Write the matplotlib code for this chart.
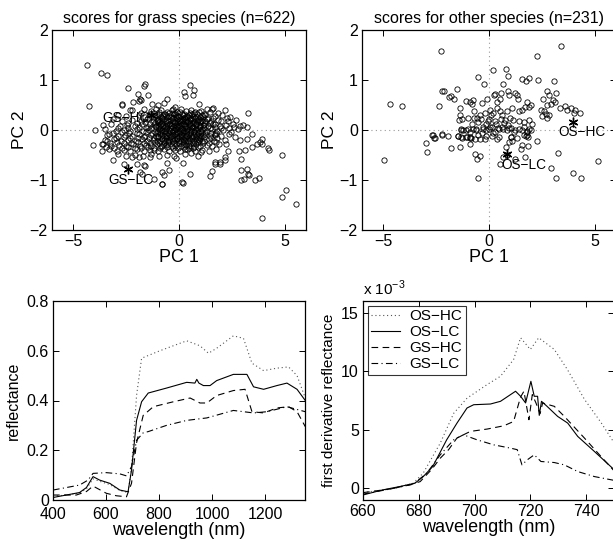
import matplotlib
matplotlib.use("Agg")
import matplotlib.pyplot as plt
import numpy as np

plt.rcParams['font.family'] = ['Liberation Sans', 'DejaVu Sans']
plt.rcParams['axes.linewidth'] = 0.9

# ---- PCA scores, grass species ----
grass_outer = [
    (-4.37, 1.30), (-3.68, 1.15), (-3.41, 1.10), (-4.23, 0.48), (-2.43, 0.85),
    (-1.59, 0.93), (-1.65, 0.88), (-1.48, 0.71), (-1.95, 0.72), (-2.67, 0.53),
    (-2.70, 0.50), (-2.15, 0.57), (-1.83, 0.63), (-1.90, 0.58), (-1.80, 0.60),
    (-2.23, 0.40), (-2.30, 0.41), (-1.63, 0.43), (-1.80, 0.35), (-1.28, 0.53),
    (-1.00, 0.50), (-0.57, 0.63), (-0.70, 0.55), (-0.18, 0.47), (-0.30, 0.42),
    (-3.97, 0.01), (-3.57, 0.10), (0.54, 0.90), (0.24, 0.77), (0.71, 0.81),
    (0.30, 0.68), (0.66, 0.70), (0.96, 0.53), (3.24, 0.35), (2.19, 0.40),
    (1.61, 0.45), (1.34, 0.42), (1.82, 0.35), (1.98, 0.18), (2.29, 0.25),
    (2.56, 0.12), (2.87, 0.08), (3.19, 0.07), (3.46, -0.08), (3.93, -0.18),
    (4.22, -0.35), (4.23, -0.40), (3.90, -0.28), (0.19, -0.65), (0.54, -0.87),
    (0.19, -1.05), (1.56, -0.81), (1.45, -0.92), (1.72, -0.63), (1.96, -0.67),
    (2.19, -0.60), (2.17, -0.53), (2.91, -0.57), (2.91, -0.80), (3.22, -0.77),
    (3.27, -0.87), (3.32, -0.90), (3.08, -0.97), (2.91, -1.00), (3.59, -1.00),
    (3.79, -0.95), (4.85, -0.50), (5.04, -1.20), (4.88, -1.33), (5.51, -1.48),
    (3.90, -1.77), (0.27, -0.37), (0.58, -0.45), (1.06, -0.43), (1.77, -0.37),
    (2.24, -0.28), (2.32, -0.41), (2.84, -0.41), (3.11, -0.39), (3.43, -0.33),
    (3.70, -0.28), (3.82, -0.23), (2.87, -0.20), (3.19, -0.17), (2.63, -0.13),
    (2.17, -0.20), (1.69, -0.07), (1.93, -0.63), (1.69, -0.67), (-4.04, -0.30),
    (-3.65, -0.27), (-3.62, -0.41), (-3.13, -0.60), (-3.50, -0.20), (-3.40, -0.10),
    (-2.62, -0.67), (-2.23, -0.53), (-1.99, -0.67), (-1.67, -0.70), (-1.60, -0.72),
    (-1.86, -0.83), (-1.75, -0.88), (-1.20, -0.97), (-0.81, -1.08), (-0.81, -0.83),
    (-0.70, -0.90), (-0.46, -0.80), (-0.57, -0.65), (-0.14, -0.55), (-1.35, -0.53),
    (-1.20, -0.40), (-1.90, -0.53), (0.13, -1.03), (-0.79, -1.07),
]
grass_core = [
    (-1.3, 0.38), (-1.1, 0.42), (-0.85, 0.40), (-0.55, 0.36), (-0.35, 0.41), (-0.1, 0.37),
    (0.1, 0.43), (0.35, 0.38), (0.55, 0.41), (0.75, 0.36), (1.05, 0.39), (1.45, 0.37), (1.55, 0.42),
    (-2.9, 0.30), (-2.5, 0.28), (-1.9, 0.31), (-1.6, 0.27), (-1.35, 0.32), (-1.15, 0.29),
    (-0.95, 0.33), (-0.75, 0.28), (-0.6, 0.31), (-0.4, 0.27), (-0.25, 0.32), (-0.05, 0.29),
    (0.15, 0.33), (0.3, 0.27), (0.45, 0.31), (0.65, 0.29), (0.85, 0.32), (1.0, 0.27),
    (1.25, 0.30), (1.7, 0.28), (2.05, 0.31), (2.4, 0.27),
    (-3.1, 0.22), (-2.7, 0.18), (-2.2, 0.21), (-1.8, 0.19), (-1.5, 0.22), (-1.25, 0.17),
    (-1.05, 0.21), (-0.9, 0.18), (-0.7, 0.23), (-0.5, 0.19), (-0.35, 0.22), (-0.2, 0.17),
    (0.0, 0.21), (0.12, 0.18), (0.28, 0.23), (0.42, 0.19), (0.58, 0.22), (0.72, 0.17),
    (0.9, 0.21), (1.1, 0.18), (1.3, 0.22), (1.5, 0.19), (1.85, 0.21), (2.3, 0.18), (2.7, 0.20),
    (-3.2, 0.12), (-2.8, 0.08), (-2.45, 0.11), (-2.1, 0.09), (-1.75, 0.12), (-1.45, 0.07),
    (-1.2, 0.11), (-1.0, 0.08), (-0.85, 0.13), (-0.65, 0.09), (-0.48, 0.12), (-0.3, 0.07),
    (-0.15, 0.11), (0.02, 0.09), (0.18, 0.13), (0.35, 0.08), (0.5, 0.11), (0.68, 0.07),
    (0.82, 0.12), (0.98, 0.09), (1.15, 0.11), (1.35, 0.08), (1.6, 0.12), (1.95, 0.09),
    (2.2, 0.11), (2.6, 0.07), (3.0, 0.10),
    (-3.5, 0.02), (-3.0, -0.02), (-2.6, 0.01), (-2.3, -0.01), (-2.0, 0.03), (-1.7, -0.02),
    (-1.4, 0.01), (-1.15, -0.03), (-0.95, 0.02), (-0.78, -0.01), (-0.6, 0.03), (-0.42, -0.02),
    (-0.25, 0.01), (-0.08, -0.03), (0.08, 0.02), (0.25, -0.01), (0.4, 0.03), (0.58, -0.02),
    (0.75, 0.01), (0.92, -0.03), (1.1, 0.02), (1.3, -0.01), (1.55, 0.02), (1.8, -0.02),
    (2.1, 0.01), (2.45, -0.03), (2.8, 0.02),
    (-3.3, -0.08), (-2.9, -0.12), (-2.55, -0.09), (-2.2, -0.11), (-1.9, -0.08), (-1.6, -0.12),
    (-1.3, -0.09), (-1.1, -0.11), (-0.9, -0.08), (-0.72, -0.12), (-0.55, -0.09), (-0.38, -0.11),
    (-0.2, -0.08), (-0.02, -0.12), (0.15, -0.09), (0.32, -0.11), (0.48, -0.08), (0.65, -0.12),
    (0.85, -0.09), (1.05, -0.11), (1.25, -0.08), (1.45, -0.12), (1.7, -0.09), (2.0, -0.11), (2.35, -0.08),
    (-3.4, -0.22), (-3.05, -0.18), (-2.75, -0.21), (-2.4, -0.19), (-2.05, -0.22), (-1.75, -0.18),
    (-1.5, -0.21), (-1.25, -0.19), (-1.02, -0.22), (-0.82, -0.18), (-0.62, -0.21), (-0.45, -0.19),
    (-0.28, -0.22), (-0.1, -0.18), (0.08, -0.21), (0.25, -0.19), (0.42, -0.22), (0.6, -0.18),
    (0.78, -0.21), (0.95, -0.19), (1.2, -0.22), (1.4, -0.18), (1.65, -0.21),
    (-3.6, -0.28), (-3.2, -0.32), (-2.85, -0.29), (-2.5, -0.31), (-2.15, -0.28), (-1.85, -0.32),
    (-1.55, -0.29), (-1.3, -0.31), (-1.05, -0.28), (-0.85, -0.32), (-0.6, -0.29), (-0.35, -0.31),
    (-0.12, -0.28), (0.1, -0.32), (0.35, -0.29), (0.55, -0.31), (0.8, -0.28), (1.0, -0.32),
    (1.3, -0.29), (1.55, -0.31), (1.9, -0.28),
    (-3.3, -0.38), (-2.95, -0.42), (-2.6, -0.39), (-2.3, -0.41), (-2.0, -0.38), (-1.65, -0.42),
    (-1.35, -0.39), (-1.0, -0.41), (-0.7, -0.38), (-0.45, -0.42), (-0.2, -0.39), (0.05, -0.41),
    (0.4, -0.38), (0.75, -0.42), (1.1, -0.39), (1.4, -0.41),
    (-2.9, -0.48), (-2.5, -0.52), (-2.1, -0.49), (-1.7, -0.51), (-1.3, -0.48), (-0.95, -0.52),
    (-0.55, -0.49), (-0.25, -0.51), (0.3, -0.48), (0.9, -0.52),
]
grass_core_fill = [
    (-1.2, 0.34), (-0.95, 0.36), (-0.7, 0.33), (-0.45, 0.35), (-0.2, 0.34), (0.05, 0.36),
    (0.25, 0.33), (0.5, 0.35), (0.7, 0.34), (0.95, 0.36), (1.2, 0.33),
    (-1.45, 0.24), (-1.2, 0.26), (-0.98, 0.23), (-0.8, 0.25), (-0.55, 0.26), (-0.3, 0.24),
    (-0.12, 0.26), (0.08, 0.23), (0.22, 0.25), (0.38, 0.26), (0.52, 0.24), (0.75, 0.25),
    (0.95, 0.23), (1.15, 0.26), (1.35, 0.24), (1.6, 0.25),
    (-2.4, 0.15), (-2.0, 0.14), (-1.6, 0.16), (-1.35, 0.13), (-1.12, 0.15), (-0.95, 0.16),
    (-0.78, 0.14), (-0.58, 0.15), (-0.42, 0.13), (-0.25, 0.16), (-0.08, 0.14), (0.06, 0.15),
    (0.22, 0.13), (0.38, 0.16), (0.52, 0.14), (0.65, 0.15), (0.8, 0.13), (1.0, 0.16),
    (1.22, 0.14), (1.45, 0.15), (1.7, 0.13),
    (-2.9, 0.05), (-2.4, 0.04), (-1.9, 0.06), (-1.55, 0.05), (-1.3, 0.04), (-1.08, 0.06),
    (-0.9, 0.05), (-0.72, 0.04), (-0.55, 0.06), (-0.38, 0.05), (-0.2, 0.04), (-0.05, 0.06),
    (0.12, 0.05), (0.3, 0.04), (0.45, 0.06), (0.62, 0.05), (0.8, 0.04), (0.98, 0.06),
    (1.2, 0.05), (1.45, 0.04), (1.7, 0.06), (2.0, 0.05), (2.35, 0.04),
    (-3.1, -0.05), (-2.7, -0.04), (-2.35, -0.06), (-2.0, -0.05), (-1.55, -0.04), (-1.28, -0.06),
    (-1.05, -0.05), (-0.88, -0.04), (-0.68, -0.06), (-0.5, -0.05), (-0.32, -0.04), (-0.15, -0.06),
    (0.02, -0.05), (0.18, -0.04), (0.35, -0.06), (0.52, -0.05), (0.7, -0.04), (0.88, -0.06),
    (1.05, -0.05), (1.25, -0.04), (1.5, -0.06), (1.75, -0.05),
    (-3.0, -0.16), (-2.6, -0.14), (-2.3, -0.15), (-1.95, -0.16), (-1.65, -0.14), (-1.4, -0.15),
    (-1.18, -0.16), (-0.98, -0.14), (-0.78, -0.15), (-0.6, -0.16), (-0.42, -0.14), (-0.25, -0.15),
    (-0.08, -0.16), (0.1, -0.14), (0.28, -0.15), (0.45, -0.16), (0.62, -0.14), (0.8, -0.15),
    (1.0, -0.16), (1.2, -0.14), (1.5, -0.15), (1.8, -0.16),
    (-3.25, -0.26), (-2.95, -0.24), (-2.6, -0.25), (-2.25, -0.26), (-1.95, -0.24), (-1.65, -0.25),
    (-1.38, -0.26), (-1.15, -0.24), (-0.95, -0.25), (-0.72, -0.26), (-0.5, -0.24), (-0.25, -0.25),
    (-0.02, -0.26), (0.2, -0.24), (0.45, -0.25), (0.68, -0.26), (0.9, -0.24), (1.12, -0.25),
    (1.4, -0.26), (1.75, -0.24),
    (-3.45, -0.34), (-3.05, -0.36), (-2.7, -0.35), (-2.4, -0.34), (-2.1, -0.36), (-1.8, -0.35),
    (-1.45, -0.34), (-1.18, -0.36), (-0.9, -0.35), (-0.55, -0.34), (-0.3, -0.36), (-0.05, -0.35),
    (0.22, -0.34), (0.48, -0.36), (0.65, -0.35), (0.9, -0.34),
]
grass_core_dense = [
    (-1.05, 0.30), (-0.85, 0.27), (-0.65, 0.33), (-0.48, 0.29), (-0.3, 0.35), (-0.15, 0.30),
    (0.0, 0.26), (0.18, 0.31), (0.4, 0.28), (0.6, 0.33), (0.8, 0.27), (1.1, 0.31),
    (-1.0, 0.19), (-0.8, 0.21), (-0.6, 0.18), (-0.42, 0.21), (-0.28, 0.19), (-0.1, 0.22),
    (0.05, 0.18), (0.2, 0.21), (0.35, 0.18), (0.5, 0.20), (0.68, 0.22), (0.85, 0.18),
    (1.05, 0.21), (1.25, 0.19),
    (-1.1, 0.09), (-0.92, 0.11), (-0.75, 0.08), (-0.58, 0.10), (-0.4, 0.09), (-0.22, 0.11),
    (-0.08, 0.08), (0.1, 0.11), (0.28, 0.09), (0.45, 0.12), (0.6, 0.09), (0.78, 0.10),
    (0.95, 0.08), (1.2, 0.10),
    (-1.0, -0.01), (-0.82, 0.01), (-0.65, -0.02), (-0.48, 0.01), (-0.3, -0.01), (-0.12, 0.02),
    (0.05, -0.01), (0.2, 0.01), (0.38, -0.02), (0.55, 0.01), (0.7, -0.01), (0.88, 0.02), (1.05, -0.02),
    (-1.0, -0.11), (-0.82, -0.09), (-0.62, -0.12), (-0.45, -0.08), (-0.28, -0.10), (-0.1, -0.12),
    (0.08, -0.08), (0.25, -0.11), (0.4, -0.09), (0.58, -0.12), (0.75, -0.08), (0.95, -0.11), (1.15, -0.09),
    (-0.9, -0.21), (-0.7, -0.19), (-0.52, -0.22), (-0.35, -0.18), (-0.18, -0.20), (0.0, -0.22),
    (0.18, -0.18), (0.35, -0.21), (0.52, -0.19), (0.7, -0.22), (0.88, -0.18), (1.1, -0.21),
    (-0.8, -0.31), (-0.5, -0.28), (-0.2, -0.32), (0.2, -0.28), (0.45, -0.31), (0.7, -0.33),
]

# ---- PCA scores, other species ----
other_pts = [
    (-4.98, -0.60), (-4.70, 0.53), (-4.13, 0.49), (-2.27, 1.59), (-0.52, 1.07), (-0.25, 0.93),
    (0.17, 1.20), (0.78, 1.22), (0.89, 1.08), (1.57, 1.03), (1.76, 0.98), (1.89, 1.05),
    (2.33, 1.00), (3.05, 0.99), (2.25, 1.48), (3.40, 1.69), (0.65, 0.92),
    (-2.24, 0.78), (-2.11, 0.78), (-2.38, 0.49), (-1.87, 0.67), (-1.79, 0.69), (-1.63, 0.62),
    (-1.52, 0.83), (-1.35, 0.45), (-1.11, 0.58), (-0.89, 0.57), (-0.76, 0.61), (-0.79, 0.53),
    (-0.32, 0.55), (-0.10, 0.63), (-0.73, 0.38), (-0.98, 0.25), (-1.27, 0.23), (-1.37, 0.30),
    (-0.44, 0.30), (-0.37, 0.23), (-0.52, 0.17), (-0.13, 0.13), (-0.29, 0.07), (-0.60, 0.03),
    (-0.79, 0.13), (-1.08, 0.00), (-0.92, -0.13), (-1.24, 0.00), (-1.32, 0.03), (-1.40, 0.20),
    (-2.67, -0.10), (-2.59, -0.15), (-2.24, -0.08), (-1.95, -0.12), (-1.48, -0.12), (-1.32, -0.13),
    (-1.05, -0.13), (-0.84, -0.15),
    (0.22, 0.71), (0.30, 0.73), (0.59, 0.74), (0.89, 0.79), (0.94, 0.71), (1.22, 0.74),
    (1.30, 0.71), (1.38, 0.62), (0.51, 0.63), (0.38, 0.57),
    (2.76, 0.78), (2.84, 0.71), (3.16, 0.74), (2.56, 0.62), (3.00, 0.61), (3.13, 0.56),
    (2.76, 0.50), (2.95, 0.52), (1.78, 0.56), (1.97, 0.50), (1.68, 0.47), (1.89, 0.46),
    (1.57, 0.41), (2.44, 0.41), (2.60, 0.38), (2.68, 0.33), (2.84, 0.31), (2.49, 0.28), (2.76, 0.25),
    (3.35, 0.45), (3.59, 0.48), (3.70, 0.41), (3.89, 0.45), (4.06, 0.41), (4.29, 0.35), (4.02, 0.35),
    (0.03, 0.41), (0.21, 0.35), (0.52, 0.38), (0.84, 0.38), (1.08, 0.45), (1.40, 0.38),
    (0.00, 0.23), (0.29, 0.19), (0.57, 0.23), (0.76, 0.20), (1.00, 0.25), (1.14, 0.21), (1.41, 0.19),
    (1.65, 0.17), (1.89, 0.20), (2.05, 0.13),
    (0.05, 0.07), (0.44, 0.05), (0.68, 0.03), (0.95, 0.05), (1.24, 0.01), (1.56, 0.00),
    (1.79, -0.03), (2.00, 0.01),
    (0.46, -0.13), (0.14, -0.12), (1.02, -0.13), (1.30, -0.15), (1.73, -0.12), (1.86, -0.13),
    (-2.98, -0.25), (-2.94, -0.43), (-2.63, -0.10), (-2.54, -0.15), (-2.24, -0.09),
    (-1.79, -0.35), (-1.37, -0.33), (-1.45, -0.11), (-1.29, -0.15), (-1.32, 0.00),
    (-1.00, 0.02), (-0.92, -0.03), (-0.76, 0.03), (-0.60, 0.00), (-0.52, -0.10), (-1.08, -0.13),
    (-0.89, -0.15), (-0.68, -0.17), (-0.44, -0.17), (-0.21, -0.17), (-0.16, -0.11), (-0.29, 0.02),
    (-0.13, 0.00), (-0.89, -0.27), (-0.68, -0.47), (-0.57, -0.57), (-0.41, -0.51), (-0.51, -0.95),
    (-0.02, 0.03), (0.14, 0.07), (0.30, -0.03), (0.46, 0.03), (0.62, 0.07), (0.83, 0.00),
    (1.02, 0.05), (1.17, -0.03), (1.41, 0.03), (1.65, 0.07), (1.78, -0.02), (1.89, 0.03),
    (0.38, -0.18), (1.05, -0.13), (1.10, -0.22), (0.94, -0.23), (1.65, -0.10), (1.78, -0.10),
    (2.25, -0.21), (0.78, -0.34), (1.49, -0.38), (1.57, -0.29), (1.84, -0.31), (3.27, -0.45),
    (1.68, -0.53), (1.25, -0.57), (0.86, -0.49), (0.67, -0.53), (0.51, -0.67),
    (2.92, -0.75), (3.16, -0.95), (3.97, -0.85), (4.33, -0.95), (5.17, -0.62),
    (-0.55, 0.25), (-0.20, 0.35), (0.10, 0.30), (0.35, 0.12), (0.60, 0.30), (-0.35, -0.05),
    (0.20, -0.05), (0.70, 0.15), (-0.70, 0.25), (0.40, 0.45), (-0.05, 0.18), (0.90, 0.10),
]

# class means (asterisks) and their labels
grass_means = [(-1.3, 0.30), (-2.43, -0.77)]
grass_labels = ['GS\u2212HC', 'GS\u2212LC']
grass_label_pos = [(-3.62, 0.24), (-3.36, -1.0)]
other_means = [(3.95, 0.17), (0.84, -0.47)]
other_labels = ['OS\u2212HC', 'OS\u2212LC']
other_label_pos = [(3.29, -0.03), (0.57, -0.70)]

# ---- mean reflectance spectra ----
wl_os_hc = [400, 450, 500, 526, 551, 576, 614, 652, 683, 696, 715, 734, 803, 904, 954, 986,
            1017, 1080, 1118, 1150, 1194, 1244, 1288, 1320, 1351]
refl_os_hc = [0.015, 0.02, 0.028, 0.045, 0.085, 0.075, 0.062, 0.038, 0.03, 0.13, 0.42, 0.57, 0.60,
              0.64, 0.62, 0.59, 0.61, 0.66, 0.65, 0.55, 0.52, 0.53, 0.535, 0.50, 0.41]
wl_os_lc = [400, 450, 500, 526, 551, 576, 614, 652, 683, 696, 715, 734, 759, 828, 904, 935, 942,
            950, 967, 992, 1017, 1080, 1131, 1156, 1194, 1244, 1282, 1320, 1351]
refl_os_lc = [0.01, 0.02, 0.03, 0.05, 0.094, 0.08, 0.067, 0.04, 0.033, 0.12, 0.32, 0.395, 0.43,
              0.45, 0.473, 0.47, 0.485, 0.47, 0.46, 0.46, 0.48, 0.505, 0.505, 0.455, 0.445,
              0.46, 0.47, 0.445, 0.40]
wl_gs_hc = [400, 488, 526, 551, 601, 639, 677, 696, 715, 740, 778, 854, 917, 954, 980, 1017,
            1080, 1124, 1150, 1194, 1244, 1288, 1320, 1351]
refl_gs_hc = [0.02, 0.02, 0.034, 0.056, 0.027, 0.017, 0.013, 0.067, 0.23, 0.34, 0.375, 0.395,
              0.41, 0.39, 0.39, 0.42, 0.44, 0.445, 0.355, 0.35, 0.37, 0.375, 0.355, 0.295]
wl_gs_lc = [400, 500, 532, 551, 601, 652, 677, 696, 715, 740, 759, 828, 904, 980, 1080, 1156,
            1207, 1282, 1351]
refl_gs_lc = [0.04, 0.06, 0.08, 0.107, 0.11, 0.105, 0.097, 0.134, 0.24, 0.27, 0.275, 0.30,
              0.32, 0.33, 0.36, 0.35, 0.355, 0.375, 0.355]

# ---- first derivative (units of 1e-3) ----
dwl_os_hc = [660, 670, 678, 681.6, 687.7, 692.5, 697.3, 704.5, 709.3, 714, 716.5, 720, 723,
             728.6, 733.4, 739.4, 745.4, 750]
deriv_os_hc = [-0.37, -0.05, 0.43, 1.3, 3.86, 6.4, 7.7, 8.86, 9.57, 11.0, 12.86, 11.86, 12.86,
               11.86, 10.1, 7.6, 5.6, 3.9]
dwl_os_lc = [660, 667, 673, 678.6, 681.6, 685, 690, 693.7, 697.3, 699.7, 705.7, 709.3, 714.7,
             716.5, 718.3, 720.2, 721.4, 722.6, 723.2, 724, 726, 729.8, 733.4, 737, 743, 750]
deriv_os_lc = [-0.57, -0.14, 0.14, 0.43, 1.0, 1.86, 4.14, 5.57, 6.86, 7.14, 7.2, 7.43, 8.29,
               7.86, 7.29, 9.14, 7.86, 7.86, 6.23, 7.43, 7.0, 6.14, 5.57, 4.43, 3.14, 1.6]
dwl_gs_hc = [660, 670, 676.8, 680.5, 684.7, 687.7, 690.7, 693.7, 698.5, 704.5, 710.5, 714,
             716.5, 717.7, 719.5, 720.7, 722, 723.5, 724.4, 728.6, 732.2, 739.4, 745.4, 750]
deriv_gs_hc = [-0.37, -0.05, 0.3, 0.57, 1.63, 2.57, 3.3, 4.3, 4.86, 5.06, 5.34, 5.71, 7.8,
               8.29, 5.86, 8.0, 7.3, 6.37, 7.29, 7.0, 6.14, 4.29, 2.7, 1.5]
dwl_gs_lc = [660, 670, 678, 682.9, 687.7, 692.5, 696, 700.9, 706.9, 712.9, 715.3, 717, 718.9,
             721.4, 723.8, 728.6, 732.2, 737, 743, 750]
deriv_gs_lc = [-0.5, -0.05, 0.35, 1.29, 2.86, 4.14, 4.57, 4.14, 3.71, 3.43, 3.3, 2.0, 2.43,
               2.86, 2.29, 2.2, 2.0, 1.43, 1.0, 0.68]

series_names = ['OS\u2212HC', 'OS\u2212LC', 'GS\u2212HC', 'GS\u2212LC']
series_styles = [(0, (1, 2.5)), '-', (0, (6, 4)), (0, (6, 3, 1, 3))]
series_colors = ['#555555', 'black', 'black', 'black']

W, H = 613, 539
fig = plt.figure(figsize=(W / 100, H / 100), dpi=100)


def px_axes(x0, y0, x1, y1):
    return fig.add_axes([x0 / W, 1 - y1 / H, (x1 - x0) / W, (y1 - y0) / H])


def matlab_style(ax):
    ax.tick_params(direction='in', top=True, right=True, length=4, width=0.7,
                   labelsize=11.5, pad=3)
    for s in ax.spines.values():
        s.set_linewidth(0.9)


def minus_fmt(v, pos):
    s = '%g' % v
    return s.replace('-', '\u2212')


def score_panel(ax, pts_list, means, labels, label_pos, title):
    ax.axhline(0, color='#999999', ls=(0, (1, 3)), lw=0.8, zorder=0)
    ax.axvline(0, color='#999999', ls=(0, (1, 3)), lw=0.8, zorder=0)
    for pts in pts_list:
        xs = [p[0] for p in pts]
        ys = [p[1] for p in pts]
        ax.plot(xs, ys, 'o', mfc='none', mec='black', ms=3.8, mew=0.6, zorder=2)
    for (mx, my), lab, (lx, ly) in zip(means, labels, label_pos):
        ax.plot(mx, my, marker=(6, 2, 0), color='black', ms=7, mew=1.0, zorder=3)
        ax.text(lx, ly, lab, fontsize=9.8, va='center', ha='left', zorder=4)
    ax.set_xlim(-6, 6)
    ax.set_ylim(-2, 2)
    ax.set_xticks([-5, 0, 5])
    ax.set_yticks([-2, -1, 0, 1, 2])
    ax.xaxis.set_major_formatter(plt.FuncFormatter(minus_fmt))
    ax.yaxis.set_major_formatter(plt.FuncFormatter(minus_fmt))
    ax.set_xlabel('PC 1', fontsize=13, labelpad=0)
    ax.set_ylabel('PC 2', fontsize=12.5, labelpad=2)
    ax.set_title(title, fontsize=11.5, pad=5)
    matlab_style(ax)


ax1 = px_axes(52, 30, 306, 230)
score_panel(ax1, [grass_outer, grass_core, grass_core_fill, grass_core_dense], grass_means,
            grass_labels, grass_label_pos, 'scores for grass species (n=622)')

ax2 = px_axes(362, 30, 616, 230)
score_panel(ax2, [other_pts], other_means, other_labels, other_label_pos,
            'scores for other species (n=231)')

# reflectance
ax3 = px_axes(53, 301, 305, 500)
refl_data = [(wl_os_hc, refl_os_hc), (wl_os_lc, refl_os_lc), (wl_gs_hc, refl_gs_hc),
             (wl_gs_lc, refl_gs_lc)]
for (xv, yv), ls, c in zip(refl_data, series_styles, series_colors):
    ax3.plot(xv, yv, ls=ls, color=c, lw=0.8)
ax3.set_xlim(400, 1350)
ax3.set_ylim(0, 0.8)
ax3.set_xticks([400, 600, 800, 1000, 1200])
ax3.set_yticks([0, 0.2, 0.4, 0.6, 0.8])
ax3.yaxis.set_major_formatter(plt.FuncFormatter(minus_fmt))
ax3.set_xlabel('wavelength (nm)', fontsize=13, labelpad=0)
ax3.set_ylabel('reflectance', fontsize=11.5, labelpad=4)
matlab_style(ax3)
ax3.tick_params(axis='x', pad=5)

# first derivative
ax4 = px_axes(363, 301, 614, 500)
deriv_data = [(dwl_os_hc, deriv_os_hc), (dwl_os_lc, deriv_os_lc), (dwl_gs_hc, deriv_gs_hc),
              (dwl_gs_lc, deriv_gs_lc)]
for (xv, yv), ls, c, name in zip(deriv_data, series_styles, series_colors, series_names):
    ax4.plot(xv, yv, ls=ls, color=c, lw=0.8, label=name)
ax4.set_xlim(660, 750)
ax4.set_ylim(-1, 16)
ax4.set_xticks([660, 680, 700, 720, 740])
ax4.set_yticks([0, 5, 10, 15])
ax4.set_xlabel('wavelength (nm)', fontsize=13, labelpad=0)
ax4.set_ylabel('first derivative reflectance', fontsize=11, labelpad=4)
ax4.text(0.0, 1.015, 'x 10$^{\\mathregular{-3}}$', transform=ax4.transAxes, fontsize=11,
         ha='left', va='bottom')
leg = ax4.legend(loc='upper left', fontsize=11, frameon=True, fancybox=False,
                 edgecolor='black', handlelength=1.9, borderpad=0.25, labelspacing=0.12,
                 handletextpad=0.6, borderaxespad=0.3)
leg.get_frame().set_linewidth(0.8)
matlab_style(ax4)

fig.savefig('out.png', dpi=100)
